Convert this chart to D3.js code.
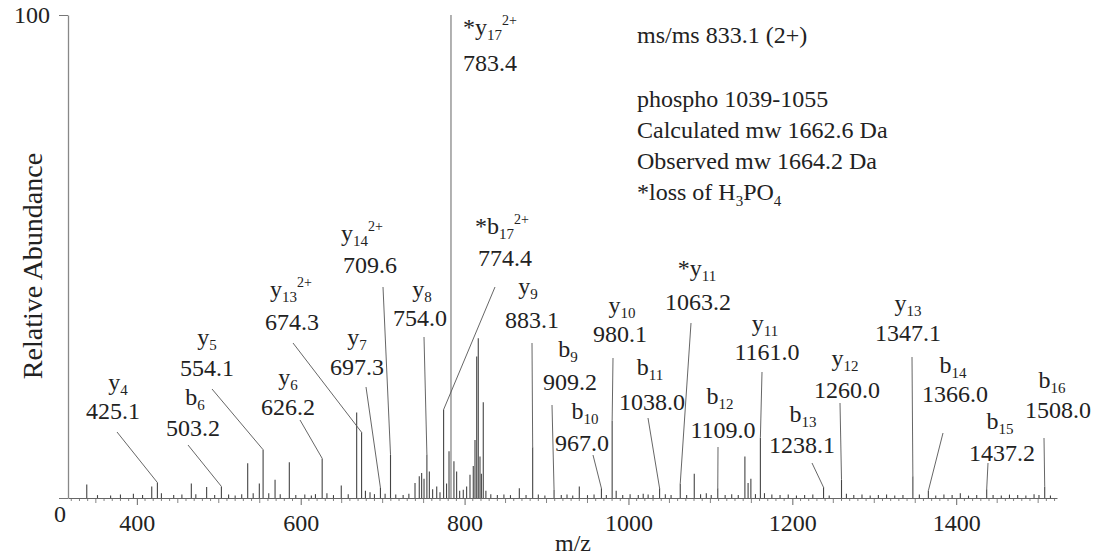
<!DOCTYPE html>
<html>
<head>
<meta charset="utf-8">
<script src="https://cdn.jsdelivr.net/npm/d3@7/dist/d3.min.js"></script>
<style>
  body { margin: 0; background: #fff; }
  svg text { font-family: "Liberation Serif", "Times New Roman", serif; fill: #222; }
</style>
</head>
<body>
<div id="chart"></div>
<script>
// spectrum peaks: m/z and relative abundance (%)
var peakMz = [338.9, 352, 368, 380, 395.8, 407, 418.2, 425.1, 430, 445, 455, 466.5, 472, 485.2, 495,
  503.2, 512, 520, 528, 535.3, 542, 549.5, 554.1, 561, 568.7, 575, 586.1, 594, 605, 613, 618,
  626.2, 632, 640, 649.5, 658, 668.3, 674.3, 679, 684.6, 690, 697.3, 703, 709.6, 716, 725, 732,
  739.5, 744.7, 747.6, 750.5, 754.0, 757, 761, 766, 770, 774.4, 778, 781, 783.4, 787, 790.3, 794,
  798.4, 802.5, 806.6, 810.6, 812.7, 814.8, 816.7, 818.8, 820.5, 822.8, 826, 832, 840, 848, 856,
  866.8, 875, 883.1, 890, 898, 909.2, 918, 925, 932, 940, 950, 958, 967.0, 973, 980.1, 985, 993,
  1002, 1012, 1018, 1024, 1030, 1038.0, 1045, 1052, 1063.2, 1071, 1080.3, 1088, 1095, 1101, 1109.0,
  1118, 1126, 1134, 1142.1, 1146, 1149.4, 1155, 1161.0, 1166, 1175, 1185, 1195, 1205, 1215, 1225,
  1238.1, 1245, 1260.0, 1266, 1275, 1285, 1295, 1305, 1315, 1325, 1335, 1347.1, 1355, 1366.0, 1375,
  1385, 1395, 1405, 1415, 1425, 1437.2, 1445, 1455, 1465, 1475, 1485, 1495, 1501, 1508.0, 1515];
var peakInt = [2.8, 0.6, 0.5, 0.7, 0.9, 0.6, 2.4, 3.2, 1.0, 0.6, 0.7, 3.0, 0.8, 2.3, 0.6,
  2.4, 0.7, 0.5, 0.8, 7.2, 1.0, 3.0, 10.0, 1.0, 3.8, 0.8, 7.4, 0.6, 0.7, 0.5, 0.8,
  8.2, 1.0, 0.6, 2.6, 0.8, 17.7, 13.6, 1.5, 1.2, 0.8, 2.1, 0.9, 9.0, 0.7, 0.6, 0.9,
  3.1, 4.5, 5.2, 4.0, 9.0, 5.5, 1.8, 2.4, 1.2, 18.3, 3.0, 9.7, 100, 7.6, 5.5, 1.5,
  1.7, 2.4, 4.8, 6.6, 12.0, 29.3, 33.1, 8.6, 5.0, 19.8, 1.5, 0.8, 0.6, 0.7, 0.6,
  2.0, 0.6, 10.5, 0.7, 0.5, 1.7, 0.6, 0.7, 0.5, 2.4, 0.6, 0.7, 2.0, 0.6, 16.0, 1.5, 0.6,
  0.8, 0.6, 0.9, 0.7, 0.6, 2.0, 0.8, 0.6, 3.0, 0.6, 5.0, 0.8, 1.0, 0.6, 2.0,
  0.6, 0.8, 0.6, 8.6, 3.1, 4.0, 0.8, 12.5, 1.0, 0.7, 0.6, 0.7, 0.5, 0.6, 0.7,
  2.2, 0.5, 3.8, 0.9, 0.6, 0.7, 0.5, 0.6, 0.7, 0.5, 0.6, 4.5, 0.7, 1.5, 0.5,
  0.7, 0.6, 1.0, 0.5, 0.6, 1.8, 0.6, 0.5, 0.7, 0.6, 0.5, 0.8, 0.6, 2.4, 0.5];

// annotated fragment ions
var ionType   = ['y', 'b', 'y', 'y', 'y', 'y', 'y', 'y', 'y', 'b', 'y', 'b', 'b', 'y', 'b', 'y', 'b', 'y', 'b', 'y', 'y', 'b', 'b', 'b'];
var ionNumber = ['4', '6', '5', '6', '13', '7', '14', '8', '17', '17', '9', '9', '10', '10', '11', '11', '12', '11', '13', '12', '13', '14', '15', '16'];
var ionCharge = ['', '', '', '', '2+', '', '2+', '', '2+', '2+', '', '', '', '', '', '', '', '', '', '', '', '', '', ''];
var ionLoss   = [false, false, false, false, false, false, false, false, true, true, false, false, false, false, false, true, false, false, false, false, false, false, false, false];
var ionMz     = [425.1, 503.2, 554.1, 626.2, 674.3, 697.3, 709.6, 754.0, 783.4, 774.4, 883.1, 909.2, 967.0, 980.1, 1038.0, 1063.2, 1109.0, 1161.0, 1238.1, 1260.0, 1347.1, 1366.0, 1437.2, 1508.0];

var xTicks = [400, 600, 800, 1000, 1200, 1400];
var yTicks = [0, 100];

var infoLines = ['ms/ms 833.1 (2+)', '', 'phospho 1039-1055', 'Calculated mw 1662.6 Da', 'Observed mw 1664.2 Da'];

// label placement (pixels): name x, name baseline, number x, number baseline, leader start x, y
var labelLayout = [
  [118, 390, 113, 419, 117, 432],
  [195, 405, 193, 436, 188, 445],
  [207, 345, 207, 376, 212, 389],
  [288, 385, 288, 415, 300, 420],
  [291, 297, 292, 330, 293, 343],
  [357, 345, 357, 375, 366, 387],
  [362, 241, 370, 273, 383, 287],
  [422, 297, 420, 326, 424, 337],
  [463, 35, 463, 71, null, null],
  [502, 234, 505, 266, 495, 287],
  [528, 294, 532, 328, 532, 343],
  [568, 357, 570, 390, 552, 405],
  [585, 419, 582, 451, 593, 455],
  [622, 313, 620, 342, 613, 358],
  [650, 375, 652, 410, 648, 418],
  [697, 276, 698, 310, 691, 323],
  [720, 404, 723, 438, 718, 447],
  [765, 331, 767, 360, 762, 372],
  [803, 422, 802, 453, 812, 463],
  [845, 366, 847, 398, 840, 403],
  [908, 311, 908, 341, 912, 357],
  [953, 373, 955, 402, 943, 433],
  [1000, 429, 1002, 461, 988, 463],
  [1052, 388, 1058, 418, 1044, 438]
];

var svgWidth = 1103;
var svgHeight = 557;

var margin = { top: 15, right: 46, bottom: 59, left: 68 };
var chartWidth = svgWidth - margin.left - margin.right;
var chartHeight = svgHeight - margin.top - margin.bottom;

var svg = d3.select('#chart')
  .append('svg')
  .attr('width', svgWidth)
  .attr('height', svgHeight)
  .style('font-family', '"Liberation Serif", "Times New Roman", serif');

var chartGroup = svg.append('g')
  .attr('transform', `translate(${margin.left}, ${margin.top})`);

var xScale = d3.scaleLinear()
  .domain([316, 1523])
  .range([0, chartWidth]);

var yScale = d3.scaleLinear()
  .domain([0, 100])
  .range([chartHeight, 0]);

// minor ticks under the baseline
var minorTicks = d3.range(320, 1521, 10).filter(function(v) { return v % 200 !== 0; });
chartGroup.append('g')
  .attr('transform', `translate(0, ${chartHeight})`)
  .selectAll('line')
  .data(minorTicks)
  .enter()
  .append('line')
  .attr('x1', d => xScale(d))
  .attr('x2', d => xScale(d))
  .attr('y1', 0)
  .attr('y2', d => d % 50 === 0 ? 5 : 3)
  .attr('stroke', '#666')
  .attr('stroke-width', 0.8);

// x axis
var bottomAxis = d3.axisBottom(xScale)
  .tickValues(xTicks)
  .tickSizeInner(7)
  .tickSizeOuter(0)
  .tickPadding(9)
  .tickFormat(d3.format('d'));

var xAxis = chartGroup.append('g')
  .attr('transform', `translate(0, ${chartHeight})`)
  .call(bottomAxis);
xAxis.attr('font-family', null);
xAxis.select('.domain').attr('stroke', '#666').attr('stroke-width', 1.2);
xAxis.selectAll('.tick line').attr('stroke', '#666');
xAxis.selectAll('text').style('font-size', '24px').attr('fill', '#222');

// y axis
var leftAxis = d3.axisLeft(yScale)
  .tickValues(yTicks)
  .tickSizeInner(9)
  .tickSizeOuter(0)
  .tickFormat(d3.format('d'));

var yAxis = chartGroup.append('g').call(leftAxis);
yAxis.attr('font-family', null);
yAxis.select('.domain').attr('stroke', '#888').attr('stroke-width', 1.3);
yAxis.selectAll('.tick line').attr('stroke', '#777');
yAxis.selectAll('text')
  .style('font-size', '24px')
  .attr('fill', '#222')
  .attr('x', d => d === 0 ? -2 : -18)
  .attr('dy', d => d === 0 ? 23 : 7);

// spectrum sticks
chartGroup.append('g')
  .selectAll('line')
  .data(d3.zip(peakMz, peakInt))
  .enter()
  .append('line')
  .attr('x1', d => xScale(d[0]))
  .attr('x2', d => xScale(d[0]))
  .attr('y1', chartHeight)
  .attr('y2', d => yScale(d[1]))
  .attr('stroke', d => d[1] > 90 ? '#888' : '#444')
  .attr('stroke-width', d => d[1] > 90 ? 1.3 : 1.1);

// leader lines and ion labels
var labelGroup = svg.append('g');

ionMz.forEach(function(mz, i) {
  var pos = labelLayout[i];
  var peak = peakInt[peakMz.indexOf(mz)];
  if (pos[4] !== null) {
    labelGroup.append('line')
      .attr('x1', pos[4])
      .attr('y1', pos[5])
      .attr('x2', margin.left + xScale(mz))
      .attr('y2', margin.top + yScale(peak))
      .attr('stroke', '#555')
      .attr('stroke-width', 0.9);
  }

  var anchor = ionLoss[i] && ionCharge[i] && ionType[i] === 'y' ? 'start' : 'middle';

  var name = labelGroup.append('text')
    .attr('x', pos[0])
    .attr('y', pos[1])
    .attr('text-anchor', anchor)
    .style('font-size', '24px');
  name.append('tspan').text((ionLoss[i] ? '*' : '') + ionType[i]);
  name.append('tspan').attr('dy', 5).style('font-size', '15px').text(ionNumber[i]);
  if (ionCharge[i]) {
    name.append('tspan').attr('dy', -15).style('font-size', '14px').text(ionCharge[i]);
  }

  labelGroup.append('text')
    .attr('x', pos[2])
    .attr('y', pos[3])
    .attr('text-anchor', anchor)
    .style('font-size', '24px')
    .text(mz.toFixed(1));
});

// info block
var info = svg.append('g');
infoLines.forEach(function(line, i) {
  var base = i === 0 ? 43 : 107 + (i - 2) * 31;
  if (line) {
    info.append('text')
      .attr('x', 637)
      .attr('y', base)
      .style('font-size', '24px')
      .text(line);
  }
});
var loss = info.append('text')
  .attr('x', 637)
  .attr('y', 200)
  .style('font-size', '24px');
loss.append('tspan').text('*loss of H');
loss.append('tspan').attr('dy', 6).style('font-size', '15px').text('3');
loss.append('tspan').attr('dy', -6).text('PO');
loss.append('tspan').attr('dy', 6).style('font-size', '15px').text('4');

// axis titles
svg.append('text')
  .attr('transform', 'translate(42, 266) rotate(-90)')
  .attr('text-anchor', 'middle')
  .style('font-size', '28px')
  .text('Relative Abundance');

svg.append('text')
  .attr('x', 573)
  .attr('y', 551)
  .attr('text-anchor', 'middle')
  .style('font-size', '24px')
  .text('m/z');
</script>
</body>
</html>
